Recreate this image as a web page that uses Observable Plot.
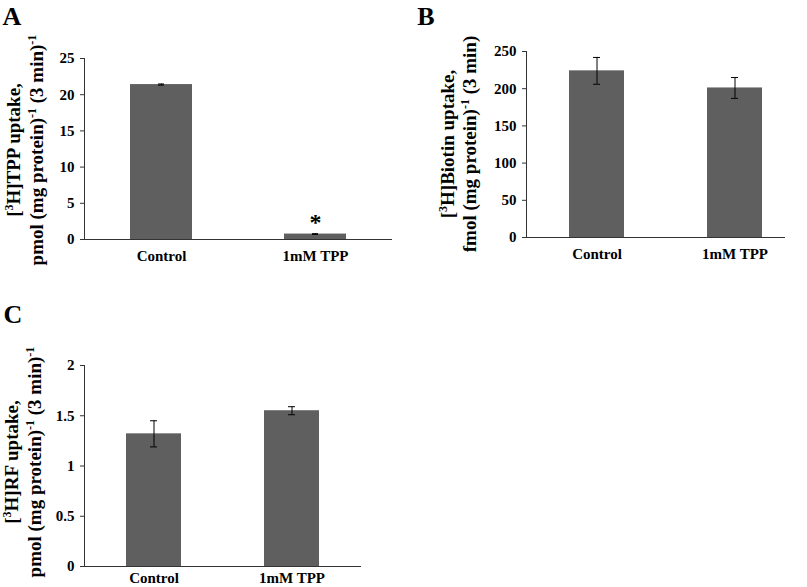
<!DOCTYPE html>
<html>
<head>
<meta charset="utf-8">
<script src="https://cdn.jsdelivr.net/npm/d3@7"></script>
<script src="https://cdn.jsdelivr.net/npm/@observablehq/plot@0.6"></script>
<style>
  html, body { margin: 0; padding: 0; background: #fff; }
  #wrap { position: relative; width: 807px; height: 587px; overflow: hidden; }
  .panel { position: absolute; }
</style>
</head>
<body>
<div id="wrap">
  <div class="panel" id="pa" style="left:0px; top:0px;"></div>
  <div class="panel" id="pb" style="left:400px; top:0px;"></div>
  <div class="panel" id="pc" style="left:0px; top:290px;"></div>
</div>
<script>
// ---- data ----
const categories = ["Control", "1mM TPP"];

const tppUptake = [21.4, 0.75];
const tppErr = [0.08, 0.05];
const tppSig = ["", "*"];
const tppTicks = [0, 5, 10, 15, 20, 25];

const biotinUptake = [224, 201];
const biotinErr = [18, 14];
const biotinTicks = [0, 50, 100, 150, 200, 250];

const rfUptake = [1.32, 1.55];
const rfErr = [0.13, 0.04];
const rfTicks = [0, 0.5, 1, 1.5, 2];

const panelLetters = ["A", "B", "C"];
// title parts: [text, isSuperscript]
const titleA1 = [["[", 0], ["3", 1], ["H]TPP uptake,", 0]];
const titleA2 = [["pmol (mg protein)", 0], ["-1", 1], [" (3 min)", 0], ["-1", 1]];
const titleB1 = [["[", 0], ["3", 1], ["H]Biotin uptake,", 0]];
const titleB2 = [["fmol (mg protein)", 0], ["-1", 1], [" (3 min)", 0]];
const titleC1 = [["[", 0], ["3", 1], ["H]RF uptake,", 0]];
const titleC2 = [["pmol (mg protein)", 0], ["-1", 1], [" (3 min)", 0], ["-1", 1]];

// ---- helpers ----
const FONT = "'Liberation Serif', 'Times New Roman', serif";
const BAR = "#5f5f5f";
const AXIS = "#333";

function table(vals, errs, sig) {
  return categories.map((c, i) => ({cat: c, v: vals[i], e: errs[i], s: sig ? sig[i] : ""}));
}

function addTitle(svg, parts, x, y, fs) {
  const t = d3.select(svg).append("text")
    .attr("transform", `translate(${x},${y}) rotate(-90)`)
    .attr("text-anchor", "middle")
    .attr("font-family", FONT)
    .attr("font-weight", "bold")
    .attr("font-size", fs)
    .attr("fill", "black");
  const sfs = Math.round(fs * 0.62);
  const shift = Math.round(fs * 0.38);
  let up = false;
  for (const [txt, sup] of parts) {
    const sp = t.append("tspan").text(txt);
    if (sup) {
      sp.attr("font-size", sfs).attr("dy", -shift);
      up = true;
    } else {
      sp.attr("font-size", fs);
      if (up) { sp.attr("dy", shift); up = false; }
    }
  }
}

function addLetter(svg, letter, x, y) {
  d3.select(svg).append("text")
    .attr("x", x).attr("y", y)
    .attr("font-family", FONT)
    .attr("font-weight", "bold")
    .attr("font-size", 26)
    .attr("fill", "black")
    .text(letter);
}

function panel(opts) {
  const data = table(opts.vals, opts.errs, opts.sig);
  const marks = [
    Plot.barY(data, {x: "cat", y: "v", fill: BAR}),
    Plot.ruleX(data, {x: "cat", y1: d => d.v - d.e, y2: d => d.v + d.e, stroke: "black", strokeWidth: 1}),
    Plot.tickY(data, {x: "cat", y: d => d.v - d.e, stroke: "black", insetLeft: opts.capInset, insetRight: opts.capInset}),
    Plot.tickY(data, {x: "cat", y: d => d.v + d.e, stroke: "black", insetLeft: opts.capInset, insetRight: opts.capInset}),
    Plot.frame({anchor: "left", stroke: AXIS}),
    Plot.ruleY([0], {stroke: AXIS}),
    Plot.axisY({ticks: opts.ticks, tickFormat: d3.format("~g"), tickSize: 4, tickPadding: 6, label: null, stroke: AXIS, fill: "black"}),
    Plot.axisX({tickSize: 0, tickPadding: opts.xPad, label: null, fill: "black"})
  ];
  if (opts.sig) {
    marks.push(Plot.text(data, {x: "cat", y: d => d.v + d.e, text: "s", dy: -11, fontSize: 24, fill: "black"}));
  }
  return Plot.plot({
    width: opts.width,
    height: opts.height,
    marginLeft: opts.ml,
    marginRight: opts.mr,
    marginTop: opts.mt,
    marginBottom: opts.mb,
    style: {fontFamily: FONT, fontWeight: "bold", fontSize: "15px", color: "black", background: "transparent"},
    x: {domain: categories, paddingInner: 0.6, paddingOuter: opts.po, align: opts.align},
    y: {domain: [0, opts.ticks[opts.ticks.length - 1]]},
    marks
  });
}

// ---- panel A ----
const svgA = panel({vals: tppUptake, errs: tppErr, sig: tppSig, ticks: tppTicks,
  width: 400, height: 270, ml: 84, mr: 8, mt: 58, mb: 31, po: 0.3, align: 0.5, capInset: 28, xPad: 11});
addTitle(svgA, titleA1, 20, 150, 19);
addTitle(svgA, titleA2, 43, 150, 19);
addLetter(svgA, panelLetters[0], 12, 25);
document.getElementById("pa").appendChild(svgA);

// ---- panel B ----
const svgB = panel({vals: biotinUptake, errs: biotinErr, ticks: biotinTicks,
  width: 407, height: 270, ml: 126, mr: 22, mt: 51, mb: 33, po: 0.235, align: 0.66, capInset: 24, xPad: 11});
addTitle(svgB, titleB1, 54, 144, 19);
addTitle(svgB, titleB2, 76, 144, 19);
addLetter(svgB, panelLetters[1], 26, 25);
document.getElementById("pb").appendChild(svgB);

// ---- panel C ----
const svgC = panel({vals: rfUptake, errs: rfErr, ticks: rfTicks,
  width: 400, height: 297, ml: 84, mr: 39, mt: 75, mb: 21, po: 0.3, align: 0.5, capInset: 24, xPad: 6});
addTitle(svgC, titleC1, 18, 172, 19);
addTitle(svgC, titleC2, 41, 172, 19);
addLetter(svgC, panelLetters[2], 13, 33);
document.getElementById("pc").appendChild(svgC);
</script>
</body>
</html>
